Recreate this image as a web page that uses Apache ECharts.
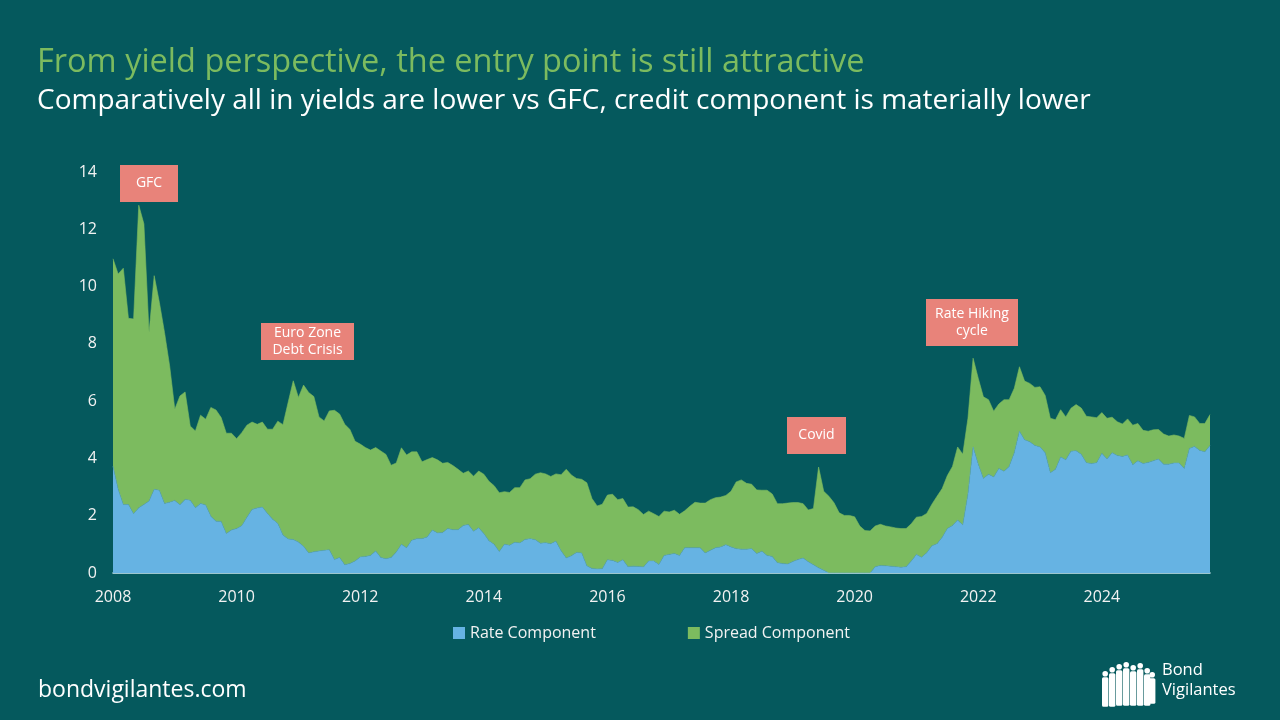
<!DOCTYPE html>
<html>
<head>
<meta charset="utf-8">
<title>Rate vs spread component</title>
<script src="https://cdn.jsdelivr.net/npm/echarts@6.0.0/dist/echarts.min.js"></script>
<style>
  html, body { margin: 0; padding: 0; background: #05595d; }
  #chart { width: 1280px; height: 720px; }
</style>
</head>
<body>
<div id="chart"></div>
<script>
// monthly, Jan 2008 .. Oct 2025
const startYear = 2008;
const monthCount = 214;
const xTickYears = [2008, 2010, 2012, 2014, 2016, 2018, 2020, 2022, 2024];

const rateComponent = [
    3.73, 2.92, 2.39, 2.39, 2.07, 2.28, 2.39, 2.51, 2.92, 2.89, 2.43, 2.47,
    2.53, 2.38, 2.57, 2.54, 2.28, 2.43, 2.37, 1.98, 1.81, 1.80, 1.38, 1.50,
    1.55, 1.65, 1.95, 2.22, 2.27, 2.30, 2.08, 1.88, 1.73, 1.33, 1.19, 1.17,
    1.08, 0.93, 0.70, 0.74, 0.77, 0.79, 0.81, 0.47, 0.54, 0.29, 0.33, 0.42,
    0.56, 0.58, 0.61, 0.77, 0.54, 0.50, 0.54, 0.73, 1.00, 0.88, 1.14, 1.20,
    1.20, 1.26, 1.50, 1.40, 1.41, 1.55, 1.51, 1.51, 1.66, 1.69, 1.46, 1.58,
    1.38, 1.13, 1.00, 0.75, 1.00, 0.97, 1.07, 1.05, 1.17, 1.20, 1.16, 1.04,
    1.06, 1.02, 1.11, 0.78, 0.52, 0.60, 0.72, 0.70, 0.25, 0.16, 0.14, 0.15,
    0.46, 0.44, 0.37, 0.46, 0.22, 0.24, 0.23, 0.21, 0.42, 0.42, 0.30, 0.61,
    0.65, 0.68, 0.61, 0.88, 0.88, 0.88, 0.88, 0.70, 0.79, 0.88, 0.91, 0.99,
    0.91, 0.85, 0.83, 0.83, 0.85, 0.68, 0.76, 0.61, 0.58, 0.36, 0.33, 0.31,
    0.40, 0.47, 0.52, 0.39, 0.29, 0.18, 0.10, 0, 0, 0, 0, 0,
    0, 0, 0, 0, 0.22, 0.26, 0.25, 0.24, 0.22, 0.20, 0.22, 0.42,
    0.65, 0.55, 0.71, 0.95, 1.02, 1.25, 1.55, 1.66, 1.85, 1.68, 2.75, 4.40,
    3.80, 3.30, 3.45, 3.35, 3.65, 3.55, 3.72, 4.20, 4.95, 4.65, 4.58, 4.45,
    4.40, 4.20, 3.50, 3.62, 4.05, 3.95, 4.25, 4.27, 4.15, 3.85, 3.82, 3.85,
    4.18, 3.98, 4.20, 4.10, 4.07, 4.12, 3.78, 3.92, 3.82, 3.86, 3.92, 3.98,
    3.80, 3.80, 3.84, 3.84, 3.65, 4.35, 4.42, 4.28, 4.23, 4.45
];

const spreadComponent = [
    7.24, 7.52, 8.25, 6.50, 6.80, 10.56, 9.80, 5.89, 7.46, 6.56, 5.97, 4.76,
    3.19, 3.80, 3.75, 2.59, 2.68, 3.08, 3.00, 3.80, 3.88, 3.63, 3.50, 3.38,
    3.14, 3.25, 3.21, 3.05, 2.92, 2.97, 2.94, 3.14, 3.57, 3.85, 4.76, 5.54,
    5.05, 5.63, 5.60, 5.42, 4.68, 4.52, 4.85, 5.21, 5.01, 4.90, 4.68, 4.18,
    3.94, 3.80, 3.68, 3.61, 3.72, 3.64, 3.22, 3.11, 3.37, 3.24, 3.09, 3.03,
    2.68, 2.70, 2.53, 2.55, 2.42, 2.31, 2.24, 2.11, 1.82, 1.87, 1.92, 1.98,
    2.07, 2.07, 2.05, 2.05, 1.84, 1.84, 1.91, 1.93, 2.08, 2.09, 2.29, 2.46,
    2.40, 2.35, 2.35, 2.65, 3.10, 2.82, 2.58, 2.57, 2.90, 2.44, 2.20, 2.25,
    2.26, 2.31, 2.19, 2.14, 2.08, 2.07, 1.98, 1.83, 1.74, 1.65, 1.67, 1.55,
    1.48, 1.51, 1.44, 1.29, 1.45, 1.59, 1.56, 1.74, 1.77, 1.75, 1.74, 1.72,
    1.94, 2.33, 2.42, 2.30, 2.25, 2.22, 2.13, 2.28, 2.18, 2.06, 2.09, 2.13,
    2.06, 1.99, 1.90, 1.81, 1.96, 3.52, 2.75, 2.68, 2.45, 2.10, 2.01, 2.01,
    1.96, 1.64, 1.48, 1.47, 1.42, 1.44, 1.39, 1.37, 1.35, 1.35, 1.33, 1.30,
    1.30, 1.42, 1.37, 1.45, 1.66, 1.70, 1.85, 2.06, 2.55, 2.47, 2.65, 3.10,
    3.00, 2.85, 2.60, 2.30, 2.25, 2.50, 2.33, 2.25, 2.25, 2.05, 2.04, 2.03,
    2.10, 2.00, 1.90, 1.73, 1.65, 1.50, 1.50, 1.61, 1.61, 1.62, 1.63, 1.57,
    1.42, 1.42, 1.24, 1.18, 1.13, 1.26, 1.38, 1.30, 1.16, 1.09, 1.08, 1.03,
    1.05, 0.98, 0.98, 0.94, 1.05, 1.15, 1.03, 0.94, 0.99, 1.08
];

// event call-outs (label, pixel box)
const events = [
    { text: 'GFC', x: 120, y: 165, w: 58, h: 37 },
    { text: 'Euro Zone\nDebt Crisis', x: 261, y: 323, w: 93, h: 37 },
    { text: 'Covid', x: 787, y: 417, w: 59, h: 37 },
    { text: 'Rate Hiking\ncycle', x: 926, y: 299, w: 92, h: 47 }
];

let months = [];
for (let i = 0; i < monthCount; i++) {
    let y = startYear + Math.floor(i / 12);
    let m = (i % 12) + 1;
    months.push(y + '-' + (m < 10 ? '0' + m : m));
}

function isTick(label) {
    return label.slice(5) === '01' && xTickYears.indexOf(+label.slice(0, 4)) >= 0;
}

const bg = '#05595d';
const blue = '#66b3e3';
const green = '#7cbb5f';
const salmon = '#e8837a';
const font = 'Open Sans';

let graphics = [];
events.forEach(function (e) {
    graphics.push({
        type: 'group',
        left: e.x,
        top: e.y,
        children: [
            { type: 'rect', shape: { x: 0, y: 0, width: e.w, height: e.h }, style: { fill: salmon } },
            {
                type: 'text',
                x: e.w / 2,
                y: e.h / 2,
                style: {
                    text: e.text, fill: '#fff', font: '500 14px "' + font + '"',
                    align: 'center', verticalAlign: 'middle', lineHeight: 17
                }
            }
        ]
    });
});

graphics.push({
    type: 'text',
    left: 38,
    top: 679,
    style: { text: 'bondvigilantes.com', fill: '#fff', font: '23px "' + font + '"' }
});

// logo: little crowd + wordmark
let crowd = [];
[[3, 9, 36], [10, 5, 40], [17, 2, 42], [24, 0, 44], [31, 3, 41], [38, 1, 43], [45, 6, 38], [50, 10, 32]].forEach(function (p) {
    crowd.push({ type: 'circle', shape: { cx: p[0], cy: p[1] + 3, r: 2.8 }, style: { fill: '#fff' } });
    crowd.push({ type: 'rect', shape: { x: p[0] - 3.2, y: p[1] + 6.5, width: 6.4, height: p[2] - 6.5, r: 1.5 }, style: { fill: '#fff' } });
});
graphics.push({ type: 'group', left: 1102, top: 662, children: crowd });
graphics.push({
    type: 'text',
    left: 1162,
    top: 660,
    style: { text: 'Bond\nVigilantes', fill: '#fff', font: '16.5px "' + font + '"', lineHeight: 20 }
});

let chart = echarts.init(document.getElementById('chart'));
let option = {
    backgroundColor: bg,
    animation: false,
    title: [{
        text: 'From yield perspective, the entry point is still attractive',
        left: 32,
        top: 41,
        textStyle: { color: green, fontFamily: font, fontSize: 32.5, fontWeight: 'normal' }
    }, {
        text: 'Comparatively all in yields are lower vs GFC, credit component is materially lower',
        left: 32,
        top: 82,
        textStyle: { color: '#fff', fontFamily: font, fontSize: 28, fontWeight: 'normal' }
    }],
    grid: {
        left: 113,
        right: 70,
        top: 172,
        bottom: 147,
        containLabel: false
    },
    legend: {
        left: 448,
        top: 620,
        icon: 'rect',
        itemWidth: 12,
        itemHeight: 12,
        itemGap: 92,
        textStyle: { color: '#f2f2f2', fontFamily: font, fontSize: 16 },
        data: ['Rate Component', 'Spread Component']
    },
    xAxis: {
        type: 'category',
        data: months,
        boundaryGap: false,
        axisLine: { show: true, lineStyle: { color: '#cfeaf3', width: 1.5 } },
        axisTick: { show: false },
        axisLabel: {
            color: '#f2f2f2',
            fontFamily: font,
            fontSize: 16,
            margin: 16,
            interval: function (idx, label) { return isTick(label); },
            formatter: function (label) { return label.slice(0, 4); }
        },
        splitLine: { show: false }
    },
    yAxis: {
        type: 'value',
        min: 0,
        max: 14,
        interval: 2,
        axisLine: { show: false },
        axisTick: { show: false },
        splitLine: { show: false },
        axisLabel: { color: '#f2f2f2', fontFamily: font, fontSize: 16, margin: 16 }
    },
    series: [{
        name: 'Rate Component',
        type: 'line',
        stack: 'yield',
        data: rateComponent,
        showSymbol: false,
        lineStyle: { width: 0.6, color: '#5fa9c9' },
        areaStyle: { color: blue, opacity: 1 },
        itemStyle: { color: blue }
    }, {
        name: 'Spread Component',
        type: 'line',
        stack: 'yield',
        data: spreadComponent,
        showSymbol: false,
        lineStyle: { width: 0.6, color: green },
        areaStyle: { color: green, opacity: 1 },
        itemStyle: { color: green }
    }],
    graphic: graphics
};
chart.setOption(option);
</script>
</body>
</html>
